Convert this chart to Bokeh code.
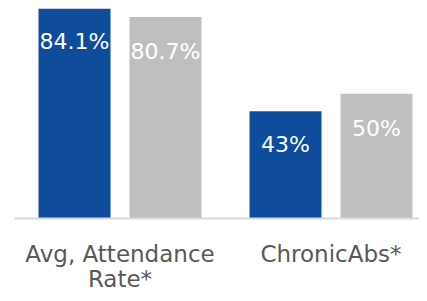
from bokeh.plotting import figure
from bokeh.models import ColumnDataSource, Range1d, FixedTicker
from bokeh.transform import dodge
from bokeh.core.properties import value
from bokeh.embed import file_html
from bokeh.resources import INLINE

# --- data ---
categories = ["Avg, Attendance\nRate*", "ChronicAbs*"]
school = [84.1, 43]
comparison = [80.7, 50]
school_labels = ["84.1%", "43%"]
comparison_labels = ["80.7%", "50%"]

BLUE = "#0F4C9C"
GRAY = "#BFBFBF"
FONT = "DejaVu Sans"

xpos = [i + 0.5 for i in range(len(categories))]
src = ColumnDataSource(dict(x=xpos, school=school, comparison=comparison,
                            sl=school_labels, cl=comparison_labels))

p = figure(output_backend="svg", toolbar_location=None,
           frame_width=405, frame_height=210,
           x_range=Range1d(0, 405 / 211), y_range=Range1d(0, 84.1),
           min_border_left=14, min_border_right=0, min_border_top=8,
           min_border_bottom=0)

off = 0.2156
bw = 72 / 211
p.vbar(x=dodge("x", -off, range=p.x_range), top="school", width=bw, bottom=0,
       source=src, fill_color=BLUE, line_color=None)
p.vbar(x=dodge("x", off, range=p.x_range), top="comparison", width=bw, bottom=0,
       source=src, fill_color=GRAY, line_color=None)

p.text(x=dodge("x", -off, range=p.x_range), y="school", text="sl", source=src,
       text_color="white", text_font=value(FONT), text_font_size="22px",
       text_align="center", text_baseline="middle", y_offset=33)
p.text(x=dodge("x", off, range=p.x_range), y="comparison", text="cl", source=src,
       text_color="white", text_font=value(FONT), text_font_size="22px",
       text_align="center", text_baseline="middle", y_offset=35)

p.yaxis.visible = False
p.grid.visible = False
p.outline_line_color = None

ax = p.xaxis[0]
ax.ticker = FixedTicker(ticks=xpos)
ax.major_label_overrides = {x: c for x, c in zip(xpos, categories)}
ax.axis_line_color = "#D9D9D9"
ax.axis_line_width = 2
ax.major_tick_line_color = None
ax.minor_tick_line_color = None
ax.major_label_text_font = FONT
ax.major_label_text_font_size = "23px"
ax.major_label_text_color = "#595959"
ax.major_label_text_line_height = 0.97
ax.major_label_standoff = 16

open("out.html", "w").write(file_html(p, INLINE))
